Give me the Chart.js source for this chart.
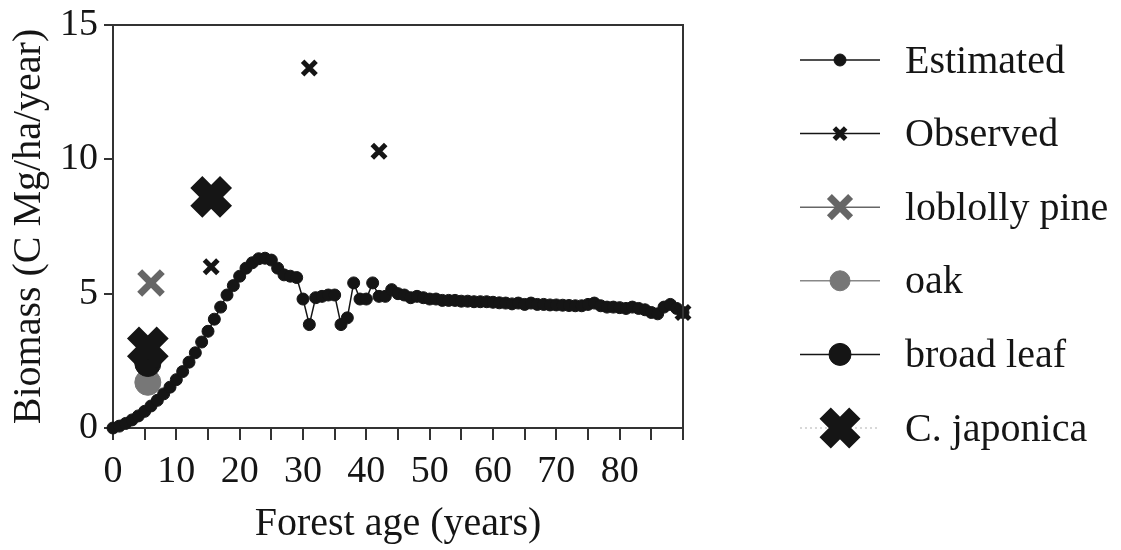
<!DOCTYPE html>
<html>
<head>
<meta charset="utf-8">
<script src="https://cdn.jsdelivr.net/npm/chart.js@4/dist/chart.umd.min.js"></script>
<style>
  html, body { margin: 0; padding: 0; background: #fff; }
</style>
</head>
<body>
<canvas id="biomassChart" width="1121" height="550"></canvas>
<script>
// forest age (years) for the estimated curve
const ages = [
  0, 1, 2, 3, 4, 5, 6, 7, 8, 9, 10, 11, 12, 13, 14, 15, 16, 17, 18, 19,
  20, 21, 22, 23, 24, 25, 26, 27, 28, 29, 30, 31, 32, 33, 34, 35, 36, 37, 38, 39,
  40, 41, 42, 43, 44, 45, 46, 47, 48, 49, 50, 51, 52, 53, 54, 55, 56, 57, 58, 59,
  60, 61, 62, 63, 64, 65, 66, 67, 68, 69, 70, 71, 72, 73, 74, 75, 76, 77, 78, 79,
  80, 81, 82, 83, 84, 85, 86, 87, 88, 89, 90
];
const estimated = [
  0, 0.07, 0.17, 0.3, 0.45, 0.62, 0.82, 1.03, 1.27, 1.52, 1.8, 2.1, 2.45, 2.8, 3.2, 3.6, 4.05, 4.5, 4.95, 5.3,
  5.65, 5.95, 6.15, 6.3, 6.32, 6.25, 5.95, 5.7, 5.65, 5.6, 4.8, 3.85, 4.85, 4.9, 4.95, 4.95, 3.85, 4.1, 5.4, 4.8,
  4.8, 5.4, 4.9, 4.9, 5.15, 5.0, 4.95, 4.85, 4.9, 4.85, 4.8, 4.8, 4.75, 4.75, 4.75, 4.72, 4.72, 4.7, 4.7, 4.7,
  4.68, 4.66, 4.65, 4.62, 4.65, 4.6, 4.65, 4.6, 4.6, 4.58, 4.58, 4.57, 4.56, 4.55, 4.55, 4.6, 4.65, 4.55, 4.5, 4.5,
  4.48, 4.45, 4.5, 4.45, 4.4, 4.3, 4.25, 4.5, 4.6, 4.45, 4.3
];

const observedAge = [15.5, 31, 42, 90];
const observedVal = [6.0, 13.4, 10.3, 4.3];
const loblollyAge = [6];
const loblollyVal = [5.4];
const oakAge = [5.5];
const oakVal = [1.7];
const broadLeafAge = [5.5];
const broadLeafVal = [2.4];
const japonicaAge = [5.5, 15.5];
const japonicaVal = [3.0, 8.6];

const xLabels = [0, 10, 20, 30, 40, 50, 60, 70, 80];
const yLabels = [0, 5, 10, 15];

const serif = '"Liberation Serif", "Times New Roman", serif';
const ink = '#151515';

function pairs(xs, ys) {
    return xs.map((x, i) => ({ x: x, y: ys[i] }));
}

// legend drawn beside the plot: short line with the marker, then the name
const legendPlugin = {
    id: 'sideLegend',
    afterDraw(chart) {
        const ctx = chart.ctx;
        const area = chart.chartArea;
        // box lines on top and right
        ctx.save();
        ctx.strokeStyle = '#333';
        ctx.lineWidth = 2;
        ctx.beginPath();
        ctx.moveTo(area.left, area.top);
        ctx.lineTo(area.right, area.top);
        ctx.lineTo(area.right, area.bottom);
        ctx.stroke();
        ctx.restore();

        const items = [
            { text: 'Estimated', style: 'circle', r: 6, bw: 1, fill: ink, stroke: ink, line: ink },
            { text: 'Observed', style: 'crossRot', r: 8, bw: 5, fill: ink, stroke: ink, line: ink },
            { text: 'loblolly pine', style: 'crossRot', r: 15, bw: 7, fill: '#666', stroke: '#666', line: '#666' },
            { text: 'oak', style: 'circle', r: 10, bw: 1, fill: '#777', stroke: '#777', line: '#888' },
            { text: 'broad leaf', style: 'circle', r: 11, bw: 1, fill: ink, stroke: ink, line: ink },
            { text: 'C. japonica', style: 'crossRot', r: 21, bw: 16, fill: ink, stroke: ink, line: '#ccc' }
        ];
        const x0 = 800, x1 = 880, xm = 840, tx = 905;
        ctx.save();
        items.forEach((it, i) => {
            const y = 60 + i * 73.6;
            ctx.strokeStyle = it.line;
            ctx.lineWidth = 1.5;
            if (i === 5) ctx.setLineDash([2, 3]);
            ctx.beginPath();
            ctx.moveTo(x0, y);
            ctx.lineTo(x1, y);
            ctx.stroke();
            ctx.setLineDash([]);
            ctx.fillStyle = it.fill;
            ctx.strokeStyle = it.stroke;
            ctx.lineWidth = it.bw;
            Chart.helpers.drawPoint(ctx, { pointStyle: it.style, radius: it.r, borderWidth: it.bw, rotation: 0 }, xm, y);
            ctx.fillStyle = ink;
            ctx.font = '40px ' + serif;
            ctx.textBaseline = 'middle';
            ctx.textAlign = 'left';
            ctx.fillText(it.text, tx, y + 2);
        });
        ctx.restore();
    }
};

const ctx = document.getElementById('biomassChart').getContext('2d');
new Chart(ctx, {
    type: 'line',
    data: {
        datasets: [
            {
                label: 'Observed',
                data: pairs(observedAge, observedVal),
                showLine: false,
                pointStyle: 'crossRot',
                pointRadius: 9.5,
                pointBorderWidth: 5,
                pointBorderColor: ink,
                clip: false
            },
            {
                label: 'Estimated',
                data: pairs(ages, estimated),
                borderColor: ink,
                borderWidth: 1.5,
                pointStyle: 'circle',
                pointRadius: 6,
                pointBorderWidth: 1,
                pointBackgroundColor: ink,
                pointBorderColor: ink,
                tension: 0,
                clip: false
            },
            {
                label: 'C. japonica',
                data: pairs(japonicaAge, japonicaVal),
                showLine: false,
                pointStyle: 'crossRot',
                pointRadius: 21,
                pointBorderWidth: 17,
                pointBorderColor: ink,
                clip: false
            },
            {
                label: 'broad leaf',
                data: pairs(broadLeafAge, broadLeafVal),
                showLine: false,
                pointStyle: 'circle',
                pointRadius: 13,
                pointBackgroundColor: ink,
                pointBorderColor: ink,
                clip: false
            },
            {
                label: 'oak',
                data: pairs(oakAge, oakVal),
                showLine: false,
                pointStyle: 'circle',
                pointRadius: 13,
                pointBackgroundColor: '#777',
                pointBorderColor: '#777',
                clip: false
            },
            {
                label: 'loblolly pine',
                data: pairs(loblollyAge, loblollyVal),
                showLine: false,
                pointStyle: 'crossRot',
                pointRadius: 16,
                pointBorderWidth: 7,
                pointBorderColor: '#666',
                clip: false
            }
        ]
    },
    options: {
        responsive: false,
        animation: false,
        layout: { autoPadding: false, padding: { top: 25, right: 438, bottom: 0, left: 0 } },
        plugins: {
            legend: { display: false },
            tooltip: { enabled: false }
        },
        scales: {
            x: {
                type: 'linear',
                min: 0,
                max: 90,
                afterFit: function(scale) {
                    scale.height = 122;
                    scale.paddingLeft = 0;
                    scale.paddingRight = 0;
                },
                border: { display: true, color: '#333', width: 2 },
                grid: { display: true, drawOnChartArea: false, drawTicks: true, tickLength: 12, color: '#333', lineWidth: 2 },
                ticks: {
                    stepSize: 5,
                    autoSkip: false,
                    maxRotation: 0,
                    padding: 9,
                    color: ink,
                    font: { family: serif, size: 38 },
                    callback: function(value) {
                        return xLabels.includes(value) ? String(value) : '';
                    }
                },
                title: {
                    display: true,
                    text: 'Forest age (years)',
                    color: ink,
                    font: { family: serif, size: 40 },
                    padding: { top: 0, bottom: 2 }
                }
            },
            y: {
                type: 'linear',
                min: 0,
                max: 15,
                afterFit: function(scale) {
                    scale.width = 113;
                    scale.paddingTop = 0;
                    scale.paddingBottom = 0;
                },
                border: { display: true, color: '#333', width: 2 },
                grid: { display: true, drawOnChartArea: false, drawTicks: true, tickLength: 9, color: '#333', lineWidth: 2 },
                ticks: {
                    stepSize: 5,
                    padding: 6,
                    color: ink,
                    font: { family: serif, size: 38 },
                    callback: function(value) {
                        return yLabels.includes(value) ? String(value) : '';
                    }
                },
                title: {
                    display: true,
                    text: 'Biomass (C Mg/ha/year)',
                    color: ink,
                    font: { family: serif, size: 40 },
                    padding: { top: 5, bottom: 0 }
                }
            }
        }
    },
    plugins: [legendPlugin]
});
</script>
</body>
</html>
